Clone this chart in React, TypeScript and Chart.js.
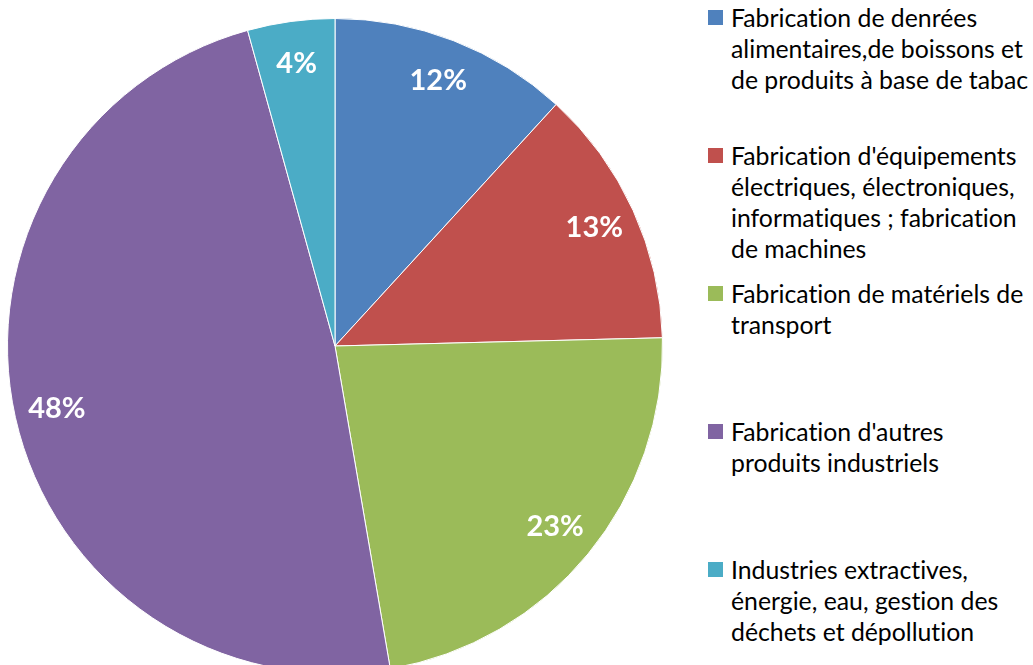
import React, { useEffect, useRef } from "react";
import { Chart, registerables } from "chart.js";

Chart.register(...registerables);

const categories: string[][] = [
  ["Fabrication de denrées", "alimentaires,de boissons et", "de produits à base de tabac"],
  ["Fabrication d'équipements", "électriques, électroniques,", "informatiques ; fabrication", "de machines"],
  ["Fabrication de matériels de", "transport"],
  ["Fabrication d'autres", "produits industriels"],
  ["Industries extractives,", "énergie, eau, gestion des", "déchets et dépollution"],
];

const shares: number[] = [11.8, 12.8, 22.7, 48.4, 4.3];

const colors: string[] = ["#4F81BD", "#C0504D", "#9BBB59", "#8064A2", "#4BACC6"];

const labelPlugin = {
  id: "sliceLabels",
  afterDatasetsDraw(chart: any) {
    const ctx = chart.ctx;
    const meta = chart.getDatasetMeta(0);
    const data = chart.data.datasets[0].data as number[];
    ctx.save();
    ctx.fillStyle = "#ffffff";
    ctx.font = "bold 29px Lato";
    ctx.textAlign = "center";
    ctx.textBaseline = "middle";
    meta.data.forEach((arc: any, i: number) => {
      const { x, y, startAngle, endAngle, outerRadius } = arc.getProps(
        ["x", "y", "startAngle", "endAngle", "outerRadius"],
        true
      );
      const mid = (startAngle + endAngle) / 2;
      const r = outerRadius * 0.87;
      ctx.fillText(Math.round(data[i]) + "%", x + Math.cos(mid) * r, y + Math.sin(mid) * r);
    });
    ctx.restore();
  },
};

export default function App() {
  const canvasRef = useRef<HTMLCanvasElement | null>(null);

  useEffect(() => {
    if (!canvasRef.current) return;
    const chart = new Chart(canvasRef.current, {
      type: "pie",
      data: {
        labels: categories.map((c) => c.join(" ")),
        datasets: [
          {
            data: shares,
            backgroundColor: colors,
            borderColor: "#ffffff",
            borderWidth: 1,
          },
        ],
      },
      options: {
        responsive: false,
        animation: false,
        layout: { padding: 0 },
        plugins: {
          legend: { display: false },
          tooltip: { enabled: false },
        },
      },
      plugins: [labelPlugin],
    });
    return () => chart.destroy();
  }, []);

  return (
    <div
      style={{
        position: "fixed",
        left: 0,
        top: 0,
        width: 1033,
        height: 665,
        overflow: "hidden",
        background: "#ffffff",
      }}
    >
      <div style={{ position: "absolute", left: 7, top: 18, width: 656, height: 656 }}>
        <canvas ref={canvasRef} width={656} height={656} />
      </div>
      <div
        style={{
          position: "absolute",
          left: 708,
          top: 2,
          fontFamily: "Lato, sans-serif",
          fontSize: 24.8,
          fontVariantLigatures: "none",
          lineHeight: "31px",
          color: "#000000",
        }}
      >
        {categories.map((lines, i) => (
          <div key={i} style={{ position: "relative", height: 138 }}>
            <div
              style={{
                position: "absolute",
                left: 0,
                top: 8,
                width: 15,
                height: 15,
                background: colors[i],
              }}
            />
            <div style={{ position: "absolute", left: 23, top: 0, whiteSpace: "nowrap" }}>
              {lines.map((l, j) => (
                <div key={j}>{l}</div>
              ))}
            </div>
          </div>
        ))}
      </div>
    </div>
  );
}
